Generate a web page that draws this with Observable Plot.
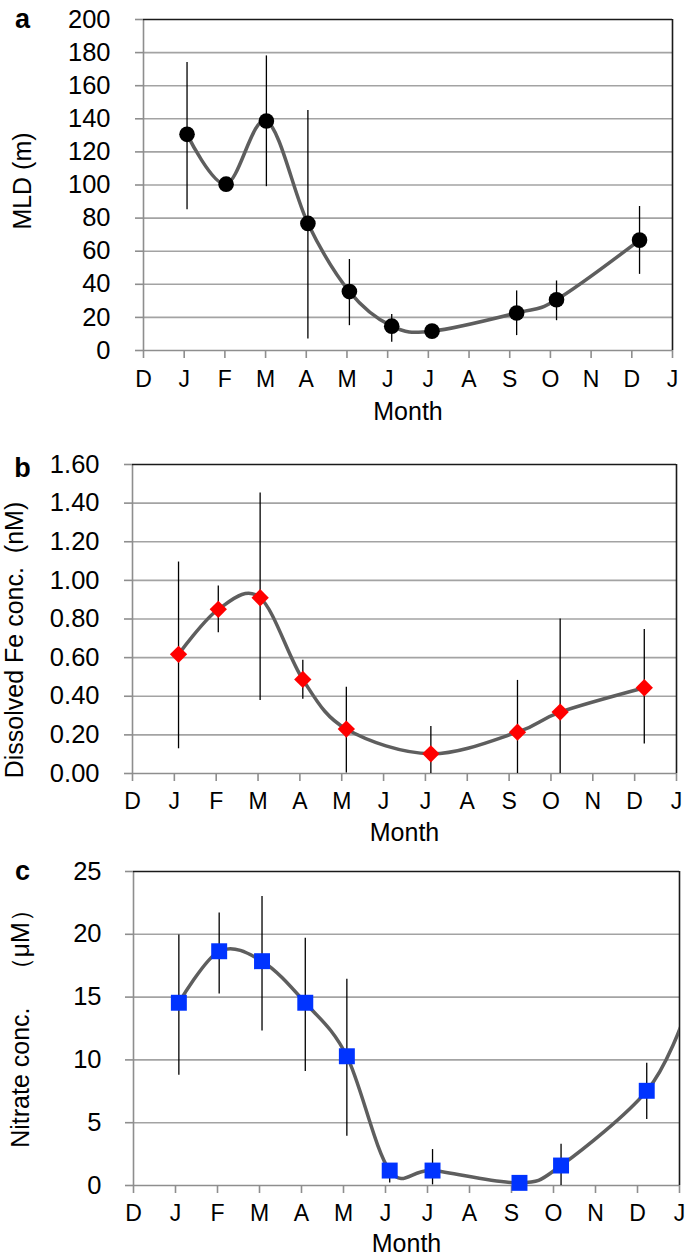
<!DOCTYPE html>
<html>
<head>
<meta charset="utf-8">
<script src="https://cdn.jsdelivr.net/npm/d3@7"></script>
<script src="https://cdn.jsdelivr.net/npm/@observablehq/plot@0.6"></script>
<style>
  html, body { margin: 0; padding: 0; background: #fff; }
  #chart { width: 685px; }
  #chart svg { display: block; overflow: visible; font-family: "Liberation Sans", Arial, Helvetica, sans-serif; }
</style>
</head>
<body>
<div id="chart"></div>
<script>
// ---- Data ----
const monthLabels = ["D","J","F","M","A","M","J","J","A","S","O","N","D","J"];

// Panel a: Mixed layer depth (m)
const mldMonth = [1.07, 2.03, 3.02, 4.04, 5.06, 6.10, 7.09, 9.17, 10.15, 12.19];
const mldValue = [130.6, 100.5, 138.7, 76.8, 35.6, 14.7, 11.7, 22.7, 30.7, 66.7];
const mldLow   = [85, null, 99, 7, 15, 5, null, 9, 18, 46];
const mldHigh  = [174, null, 178, 145, 55, 21.7, null, 36, 42, 87];

// Panel b: Dissolved Fe conc. (nM)
const feMonth = [1.10, 2.05, 3.05, 4.07, 5.11, 7.13, 9.20, 10.22, 12.23];
const feValue = [0.617, 0.850, 0.910, 0.487, 0.230, 0.102, 0.214, 0.318, 0.444];
const feLow   = [0.128, 0.729, 0.378, 0.384, 0.003, 0.0, 0.0, 0.0, 0.153];
const feHigh  = [1.095, 0.971, 1.453, 0.586, 0.447, 0.244, 0.482, 0.80, 0.746];

// Panel c: Nitrate conc. (µM); last point (next January) only shapes the smoothed line
const no3Month = [1.08, 2.04, 3.06, 4.09, 5.08, 6.10, 7.12, 9.19, 10.18, 12.22, 13.10];
const no3Value = [14.55, 18.65, 17.86, 14.55, 10.29, 1.19, 1.19, 0.21, 1.59, 7.54, 13.3];
const no3Low   = [8.78, 15.24, 12.3, 9.07, 3.92, 0.2, 0.05, null, 0.0, 5.26, null];
const no3High  = [19.95, 21.7, 23.0, 19.68, 16.43, 1.6, 2.86, null, 3.28, 9.74, null];
const no3MarkerCount = 10;

const GRID = "#a3a3a3";
const AXIS = "#8e8e8e";
const LINE = "#5e5e5e";

function panel(cfg) {
  const rows = cfg.xs.map((m, i) => ({m, v: cfg.vs[i], lo: cfg.lo[i], hi: cfg.hi[i]}));
  const markerRows = rows.slice(0, cfg.markerCount ?? rows.length);
  const top = cfg.yDomain[1];
  const gridTicks = cfg.yTicks.filter(t => t !== 0 && t !== top);
  const marker = cfg.marker;
  return Plot.plot({
    width: 685,
    height: cfg.height,
    marginTop: cfg.mt,
    marginBottom: cfg.mb,
    marginLeft: cfg.ml,
    marginRight: cfg.mr,
    style: {fontFamily: "Liberation Sans, Arial, sans-serif", fontSize: "24px", color: "black", background: "transparent", overflow: "visible"},
    x: {domain: [0, 13]},
    y: {domain: cfg.yDomain},
    marks: [
      Plot.ruleY(gridTicks, {stroke: GRID, strokeWidth: 1.6}),
      Plot.ruleX([0], {stroke: AXIS, strokeWidth: 1.6}),
      Plot.ruleY([0], {stroke: AXIS, strokeWidth: 1.6}),
      Plot.ruleY([top], {stroke: "#1a1a1a", strokeWidth: 1.6}),
      Plot.ruleX([13], {stroke: "#1a1a1a", strokeWidth: 1.6}),
      Plot.axisY({ticks: cfg.yTicks, tickSize: 8, tickPadding: cfg.yPad, tickFormat: cfg.yFmt,
        stroke: AXIS, strokeWidth: 1.6, fill: "black", fontSize: 25.5, label: null}),
      Plot.axisX({ticks: d3.range(14), tickSize: 8, tickPadding: cfg.xPad, tickFormat: i => monthLabels[i],
        stroke: AXIS, strokeWidth: 1.6, fill: "black", fontSize: 23, label: null}),
      Plot.ruleX(rows.filter(d => d.lo != null && d.hi != null), {x: "m", y1: "lo", y2: "hi", stroke: "black", strokeWidth: 1.3}),
      Plot.line(rows, {x: "m", y: "v", curve: "cardinal", stroke: LINE, strokeWidth: 3.5, clip: true}),
      Plot.dot(markerRows, {x: "m", y: "v", symbol: marker.symbol, r: marker.r, fill: marker.fill, stroke: "none"}),
      Plot.text([cfg.letter], {text: d => d, frameAnchor: "top-left", dx: cfg.letterDx, dy: cfg.letterDy,
        fontWeight: "bold", fontSize: 27, textAnchor: "middle", lineAnchor: "middle", fill: "black"}),
      Plot.text([cfg.ylabel], {text: d => d, frameAnchor: "left", rotate: -90, dx: cfg.ylabelDx, dy: cfg.ylabelDy,
        fontSize: 25, textAnchor: "middle", lineAnchor: "middle", fill: "black"}),
      Plot.text(["Month"], {text: d => d, frameAnchor: "bottom", dy: cfg.monthDy,
        fontSize: 25, textAnchor: "middle", lineAnchor: "middle", fill: "black"})
    ]
  });
}

const chart = document.getElementById("chart");

chart.append(panel({
  height: 420, mt: 19, mb: 70, ml: 143, mr: 13,
  yDomain: [0, 200], yTicks: d3.range(0, 201, 20), yFmt: d => String(d), yPad: 25, xPad: 12,
  xs: mldMonth, vs: mldValue, lo: mldLow, hi: mldHigh,
  marker: {symbol: "circle", r: 7.8, fill: "black"},
  letter: "a", letterDx: -121, letterDy: 0,
  ylabel: "MLD (m)", ylabelDx: -121, ylabelDy: -4, monthDy: 61
}));

chart.append(panel({
  height: 415, mt: 44, mb: 62, ml: 132, mr: 9,
  yDomain: [0, 1.6], yTicks: d3.range(0, 9).map(i => i * 0.2), yFmt: d => d.toFixed(2), yPad: 25, xPad: 11,
  xs: feMonth, vs: feValue, lo: feLow, hi: feHigh,
  marker: {symbol: "diamond2", r: 7.8, fill: "#ff0000"},
  letter: "b", letterDx: -110, letterDy: 4,
  ylabel: "Dissolved Fe conc.\u00a0 (nM)", ylabelDx: -118, ylabelDy: 21, monthDy: 59
}));

chart.append(panel({
  height: 421, mt: 36, mb: 71, ml: 133, mr: 6,
  yDomain: [0, 25], yTicks: d3.range(0, 26, 5), yFmt: d => String(d), yPad: 24, xPad: 11,
  xs: no3Month, vs: no3Value, lo: no3Low, hi: no3High, markerCount: no3MarkerCount,
  marker: {symbol: "square", r: 9, fill: "#0033ff"},
  letter: "c", letterDx: -111, letterDy: 0,
  ylabel: "Nitrate conc.\u3000（μM）", ylabelDx: -113, ylabelDy: -6, monthDy: 58
}));
</script>
</body>
</html>
